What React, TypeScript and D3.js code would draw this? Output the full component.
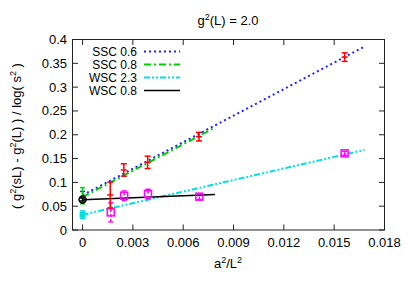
import * as d3 from "d3";

const X_TICKS = [0, 0.003, 0.006, 0.009, 0.012, 0.015, 0.018];
const Y_TICKS = [0, 0.05, 0.1, 0.15, 0.2, 0.25, 0.3, 0.35, 0.4];

// SSC measurements (red error bars)
const SSC_X = [0.015625, 0.00694, 0.00388, 0.00246, 0.00165];
const SSC_Y = [0.363, 0.196, 0.142, 0.126, 0.0735];
const SSC_ERR = [0.009, 0.009, 0.013, 0.013, 0.027];

// WSC measurements (magenta squares)
const WSC_X = [0.015625, 0.00696, 0.0039, 0.00248, 0.00168];
const WSC_Y = [0.161, 0.07, 0.0755, 0.072, 0.037];
const WSC_ERR = [0.004, 0.006, 0.01, 0.01, 0.02];

// fits: legend label, intercept, slope, x end, extrapolated value + error at a²/L² = 0
const FIT_NAMES = ["SSC 0.6", "SSC 0.8", "WSC 2.3", "WSC 0.8"];
const FIT_B = [0.073, 0.069, 0.032, 0.0635];
const FIT_M = [18.57, 18.5, 8.1, 1.4];
const FIT_XEND = [0.0168, 0.0079, 0.0168, 0.0079];
const EXTRAP_Y = [0.075, 0.072, 0.032, 0.064];
const EXTRAP_ERR = [0.006, 0.017, 0.008, 0.003];

const FIT_COLORS = ["#2020ff", "#00d000", "#00e0e0", "#000000"];
const FIT_DASH = ["2,3", "7,3,2,3", "6,2,2,2,2,2", ""];

const W = 409;
const H = 286;
const M = { left: 72.5, right: 384.5, top: 39.5, bottom: 230 };
const FONT = "'Liberation Sans', Arial, sans-serif";

export default function App() {
  const x = d3.scaleLinear().domain([-0.0006, 0.018]).range([M.left, M.right]);
  const y = d3.scaleLinear().domain([0, 0.4]).range([M.bottom, M.top]);
  const tick = 5.5;

  const fitLine = (i: number) =>
    d3.line<number>()
      .x((d) => x(d))
      .y((d) => y(FIT_B[i] + FIT_M[i] * d))([0, FIT_XEND[i]]) ?? "";

  const errBar = (cx: number, v: number, e: number, color: string, dash = "", cap = 3) => (
    <g stroke={color} strokeWidth={1.5} fill="none">
      <line x1={cx} x2={cx} y1={y(v - e)} y2={y(v + e)} strokeDasharray={dash} />
      <line x1={cx - cap} x2={cx + cap} y1={y(v - e)} y2={y(v - e)} />
      <line x1={cx - cap} x2={cx + cap} y1={y(v + e)} y2={y(v + e)} />
    </g>
  );

  return (
    <svg width={W} height={H} style={{ position: "absolute", left: 0, top: 0, background: "#fff" }}>
      <g fontFamily={FONT} fontSize={13} fill="#000">
        {/* fit lines */}
        {FIT_NAMES.map((_, i) => (
          <path key={"f" + i} d={fitLine(i)} fill="none" stroke={FIT_COLORS[i]} strokeWidth={i === 3 ? 1.5 : 2} strokeDasharray={FIT_DASH[i]} />
        ))}

        {/* extrapolated points */}
        {FIT_NAMES.map((_, i) => (
          <g key={"e" + i}>{errBar(x(0), EXTRAP_Y[i], EXTRAP_ERR[i], FIT_COLORS[i], "", 2.5)}</g>
        ))}
        <rect x={x(0) - 3} y={y(EXTRAP_Y[2]) - 3} width={6} height={6} fill="#00e0e0" />
        <circle cx={x(0)} cy={y(EXTRAP_Y[3])} r={3.5} fill="none" stroke="#000" strokeWidth={1.5} />

        {/* WSC data */}
        {WSC_X.map((d, i) => (
          <g key={"w" + i}>
            {errBar(x(d), WSC_Y[i], WSC_ERR[i], "#ff00ff", "3,2", 2.5)}
            <rect x={x(d) - 3.5} y={y(WSC_Y[i]) - 3.5} width={7} height={7} fill="none" stroke="#ff00ff" strokeWidth={1.5} />
          </g>
        ))}

        {/* SSC data */}
        {SSC_X.map((d, i) => (
          <g key={"s" + i}>
            {errBar(x(d), SSC_Y[i], SSC_ERR[i], "#ff0000")}
            <line x1={x(d) - 3} x2={x(d) + 3} y1={y(SSC_Y[i])} y2={y(SSC_Y[i])} stroke="#ff0000" strokeWidth={1.5} />
          </g>
        ))}

        {/* frame and ticks */}
        <rect x={M.left} y={M.top} width={M.right - M.left} height={M.bottom - M.top} fill="none" stroke="#222" strokeWidth={1} />
        {X_TICKS.map((t) => (
          <g key={"xt" + t}>
            <line x1={x(t)} x2={x(t)} y1={M.bottom} y2={M.bottom - tick} stroke="#222" />
            <line x1={x(t)} x2={x(t)} y1={M.top} y2={M.top + tick} stroke="#222" />
            <text x={x(t)} y={247} textAnchor="middle">{d3.format("")(t)}</text>
          </g>
        ))}
        {Y_TICKS.map((t) => (
          <g key={"yt" + t}>
            <line x1={M.left} x2={M.left + tick} y1={y(t)} y2={y(t)} stroke="#222" />
            <line x1={M.right} x2={M.right - tick} y1={y(t)} y2={y(t)} stroke="#222" />
            <text x={67} y={y(t) + 4.5} textAnchor="end">{d3.format("")(t)}</text>
          </g>
        ))}

        {/* legend */}
        {FIT_NAMES.map((n, i) => (
          <g key={"l" + i}>
            <text x={137} y={56 + i * 13} textAnchor="end" fontSize={12}>{n}</text>
            <line x1={144} x2={180} y1={51.5 + i * 13} y2={51.5 + i * 13} stroke={FIT_COLORS[i]} strokeWidth={i === 3 ? 1.5 : 2} strokeDasharray={FIT_DASH[i]} />
          </g>
        ))}

        {/* titles */}
        <text x={228} y={25} textAnchor="middle">
          g<tspan dy={-5} fontSize={9}>2</tspan><tspan dy={5}>(L) = 2.0</tspan>
        </text>
        <text x={228} y={268} textAnchor="middle">
          a<tspan dy={-5} fontSize={9}>2</tspan><tspan dy={5}>/L</tspan><tspan dy={-5} fontSize={9}>2</tspan>
        </text>
        <text transform={`translate(21,136) rotate(-90)`} textAnchor="middle">
          ( g<tspan dy={-5} fontSize={9}>2</tspan><tspan dy={5}>(sL) - g</tspan><tspan dy={-5} fontSize={9}>2</tspan>
          <tspan dy={5}>(L) ) / log( s</tspan><tspan dy={-5} fontSize={9}>2</tspan><tspan dy={5}> )</tspan>
        </text>
      </g>
    </svg>
  );
}
